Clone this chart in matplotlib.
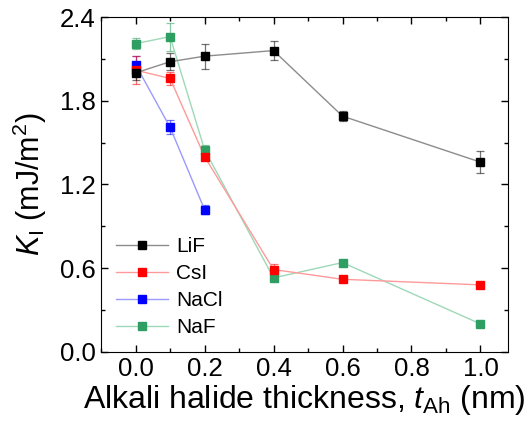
import numpy as np
import matplotlib.pyplot as plt
from matplotlib.ticker import MultipleLocator

plt.rcParams['font.family'] = ['Liberation Sans', 'DejaVu Sans']
plt.rcParams['mathtext.fontset'] = 'custom'
plt.rcParams['mathtext.rm'] = 'Liberation Sans'
plt.rcParams['mathtext.it'] = 'Liberation Sans:italic'

# thickness (nm) and K_I (mJ/m^2) with error bars
x_lif = [0.0, 0.1, 0.2, 0.4, 0.6, 1.0]
k_lif = [2.00, 2.08, 2.12, 2.16, 1.69, 1.36]
e_lif = [0.05, 0.06, 0.09, 0.07, 0.035, 0.08]

x_csi = [0.0, 0.1, 0.2, 0.4, 0.6, 1.0]
k_csi = [2.02, 1.96, 1.40, 0.59, 0.52, 0.48]
e_csi = [0.10, 0.05, 0.02, 0.04, 0.01, 0.01]

x_nacl = [0.0, 0.1, 0.2]
k_nacl = [2.06, 1.61, 1.02]
e_nacl = [0.06, 0.05, 0.03]

x_naf = [0.0, 0.1, 0.2, 0.4, 0.6, 1.0]
k_naf = [2.21, 2.26, 1.45, 0.53, 0.64, 0.20]
e_naf = [0.04, 0.10, 0.03, 0.02, 0.01, 0.01]

series = [
    ("LiF", x_lif, k_lif, e_lif, "#000000", "#8c8c8c"),
    ("CsI", x_csi, k_csi, e_csi, "#ff0000", "#ff9a9a"),
    ("NaCl", x_nacl, k_nacl, e_nacl, "#0000ff", "#9a9aff"),
    ("NaF", x_naf, k_naf, e_naf, "#2e9e62", "#9ed8b8"),
]

fig = plt.figure(figsize=(5.32, 4.28), dpi=100)
ax = fig.add_axes([0.19, 0.178, 0.765, 0.782])

# draw later series first so LiF stays on top
for name, x, y, e, c, lc in reversed(series):
    ax.errorbar(x, y, yerr=e, fmt='none', ecolor=c, alpha=0.55,
                elinewidth=0.9, capsize=3, capthick=0.9, zorder=2)
    ax.plot(x, y, '-', color=lc, lw=1.0, zorder=3)
    ax.plot(x, y, 's', color=c, ms=5.5, zorder=4)

handles = []
for name, x, y, e, c, lc in series:
    h, = ax.plot([], [], '-s', color=lc, mfc=c, mec=c, ms=5.5, lw=1.0, label=name)
    handles.append(h)
ax.legend(handles=handles, loc='lower left', bbox_to_anchor=(0.0, 0.0),
          frameon=False, fontsize=15, handlelength=2.5, handletextpad=0.4,
          labelspacing=0.38, borderaxespad=0.3)

ax.set_xlim(-0.1, 1.08)
ax.set_ylim(0, 2.4)
ax.xaxis.set_major_locator(MultipleLocator(0.2))
ax.xaxis.set_minor_locator(MultipleLocator(0.1))
ax.yaxis.set_major_locator(MultipleLocator(0.6))
ax.yaxis.set_minor_locator(MultipleLocator(0.3))
ax.tick_params(which='both', direction='in', top=True, right=True, labelsize=18.5)
ax.tick_params(which='major', length=5, width=1, pad=4)
ax.tick_params(which='minor', length=3, width=1)
ax.set_xticks(np.arange(0, 1.01, 0.2))
ax.set_xticklabels([f"{v:.1f}" for v in np.arange(0, 1.01, 0.2)])
ax.set_yticklabels([f"{v:.1f}" for v in ax.get_yticks()])

ax.set_xlabel(r"Alkali halide thickness, $t_{\mathrm{Ah}}$ (nm)", fontsize=23, labelpad=1)
ax.set_ylabel(r"$K_{\mathrm{I}}$ (mJ/m$^{2}$)", fontsize=22, labelpad=8)

fig.savefig("out.png", dpi=100)
